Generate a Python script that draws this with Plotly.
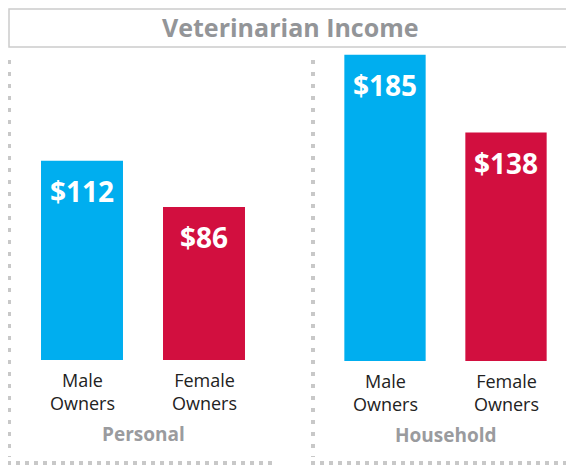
import plotly.graph_objects as go

categories = ["Male<br>Owners", "Female<br>Owners"]
groups = ["Personal", "Household"]
personal_values = [112, 86]
household_values = [185, 138]
bar_colors = ["#00AEEF", "#D20F3F"]
title_text = "Veterinarian Income"

W, H = 574, 466
OFF = 8  # page body margin offset
FONT = "Open Sans"

fig = go.Figure()
fig.add_trace(go.Bar(x=categories, y=personal_values, marker_color=bar_colors,
                     marker_line_width=0, xaxis="x", yaxis="y", showlegend=False,
                     hoverinfo="skip"))
fig.add_trace(go.Bar(x=categories, y=household_values, marker_color=bar_colors,
                     marker_line_width=0, xaxis="x2", yaxis="y2", showlegend=False,
                     hoverinfo="skip"))

def px_x(p):
    return (p - OFF) / W

def px_y(p):
    return 1 - (p - OFF) / H

left_bottom, right_bottom = 360, 361
k_left, k_right = 1.78, 1.655
ax_common = dict(showgrid=False, zeroline=False, showline=False, showticklabels=False, ticks="")
fig.update_layout(
    xaxis=dict(domain=[px_x(21), px_x(265)], anchor="y", **ax_common),
    yaxis=dict(domain=[px_y(left_bottom), 1], range=[0, (left_bottom - OFF) / k_left], anchor="x", **ax_common),
    xaxis2=dict(domain=[px_x(324.5), px_x(566.5)], anchor="y2", **ax_common),
    yaxis2=dict(domain=[px_y(right_bottom), 1], range=[0, (right_bottom - OFF) / k_right], anchor="x2", **ax_common),
    bargap=0.328,
    width=W, height=H,
    margin=dict(l=0, r=0, t=0, b=0),
    paper_bgcolor="white", plot_bgcolor="white",
)

annotations = []
for xr, yr, vals, grp in [("x", "y", personal_values, groups[0]), ("x2", "y2", household_values, groups[1])]:
    for c, v in zip(categories, vals):
        annotations.append(dict(x=c, y=v, xref=xr, yref=yr, text=f"<b>${v}</b>",
                                showarrow=False, yanchor="top", yshift=-9,
                                font=dict(family=FONT, size=28, color="white")))
        annotations.append(dict(x=c, y=0, xref=xr, yref=yr, text=c,
                                showarrow=False, yanchor="top", yshift=-6,
                                font=dict(family=FONT, size=18, color="#222222")))
    annotations.append(dict(x=0.5, y=0, xref=f"{xr} domain", yref=yr, text=f"<b>{grp}</b>",
                            showarrow=False, yanchor="middle", yshift=-74,
                            font=dict(family=FONT, size=19, color="#9a9b9e")))
annotations.append(dict(x=px_x(290), y=px_y(27), xref="paper", yref="paper",
                        text=f"<b>{title_text}</b>", showarrow=False,
                        xanchor="center", yanchor="middle",
                        font=dict(family=FONT, size=25, color="#939598")))
fig.update_layout(annotations=annotations)

vdot = dict(color="#c8c8c8", width=4, dash="4px,8px")
hdot = dict(color="#c8c8c8", width=4, dash="4px,5px")
shapes = [
    dict(type="rect", xref="paper", yref="paper", x0=px_x(9), x1=1.05, y0=px_y(47), y1=px_y(9),
         line=dict(color="#cccccc", width=1.5)),
    dict(type="line", xref="paper", yref="paper", x0=px_x(9), x1=px_x(9), y0=px_y(60), y1=px_y(457), line=vdot),
    dict(type="line", xref="paper", yref="paper", x0=px_x(313), x1=px_x(313), y0=px_y(60), y1=px_y(457), line=vdot),
    dict(type="line", xref="paper", yref="paper", x0=px_x(7), x1=px_x(275), y0=px_y(463), y1=px_y(463), line=hdot),
    dict(type="line", xref="paper", yref="paper", x0=px_x(311), x1=1.05, y0=px_y(463), y1=px_y(463), line=hdot),
]
fig.update_layout(shapes=shapes)

fig.write_html("out.html", config={"displayModeBar": False})
